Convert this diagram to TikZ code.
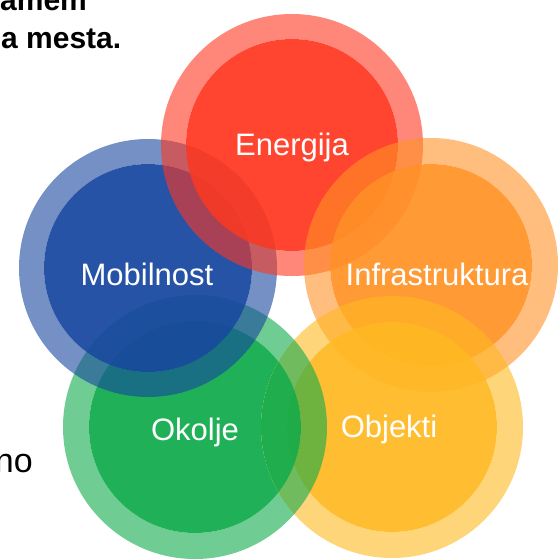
\documentclass[tikz,border=0pt]{standalone}
\usepackage{fontspec}
\setmainfont{Liberation Sans}
\newcommand\bubble[5]{%
  \fill[#1,opacity=0.6,even odd rule] (#2,#3) circle[radius=#4pt] (#2,#3) circle[radius=#5pt];
  \fill[#1,opacity=0.93] (#2,#3) circle[radius=#5pt];}
\begin{document}
\begin{tikzpicture}[x=1pt,y=-1pt,
  lbl/.style={text=white,font=\fontsize{31}{36}\selectfont,anchor=base,inner sep=0pt},
  blk/.style={text=black,font=\bfseries\fontsize{30}{36}\selectfont,anchor=base west,inner sep=0pt}]
\definecolor{cred}{HTML}{FF3720}
\definecolor{cblue}{HTML}{17469F}
\definecolor{corange}{HTML}{FF9226}
\definecolor{cyellow}{HTML}{FFB922}
\definecolor{cgreen}{HTML}{0FAB4B}
\useasboundingbox (0,0) rectangle (559,558);
\clip (0,0) rectangle (559,558);
% green, part not under yellow
\begin{scope}[even odd rule]
  \clip (-10,-10) rectangle (570,570) (392,427) circle[radius=131pt];
  \bubble{cgreen}{195}{427}{132}{106}
\end{scope}
\bubble{cblue}{148}{268}{129}{104}
\bubble{cred}{292}{145}{131}{106}
\bubble{corange}{431}{265}{127}{101}
\bubble{cyellow}{392}{427}{131}{105}
% green on top of yellow
\begin{scope}
  \clip (392,427) circle[radius=131pt];
  \bubble{cgreen}{195}{427}{132}{106}
\end{scope}
\node[lbl] (en) at (292,155) {Energija};
\node[lbl] (mo) at (147,285) {Mobilnost};
\node[lbl] (in) at (437,285) {Infrastruktura};
\node[lbl] (ok) at (195,440) {Okolje};
\node[lbl] (ob) at (389,437) {Objekti};
\node[blk] (t1) at (0,10) {amem};
\node[blk] (t2) at (1,48) {a mesta.};
\node[text=black,font=\fontsize{34}{40}\selectfont,anchor=base east,inner sep=0pt] (t3) at (33,472) {no};
\end{tikzpicture}
\end{document}
